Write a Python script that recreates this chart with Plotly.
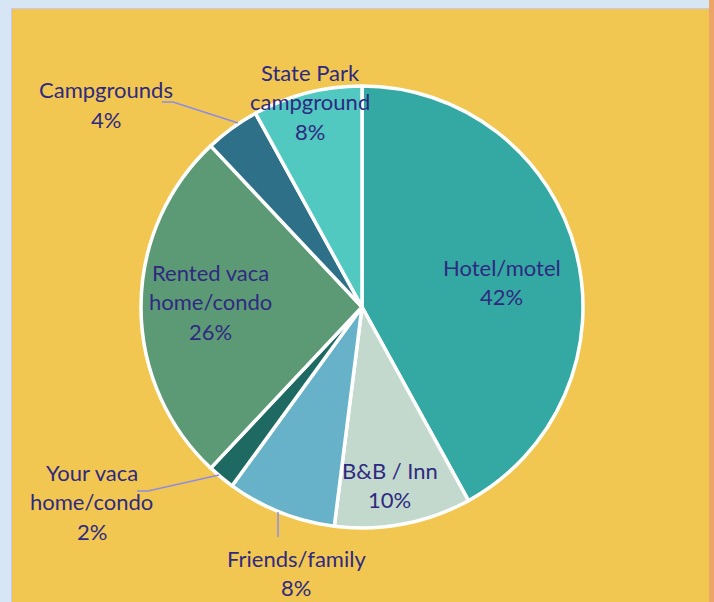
import plotly.graph_objects as go

W, H = 714, 602

labels = ["Hotel/motel", "B&B / Inn", "Friends/family", "Your vaca home/condo",
          "Rented vaca home/condo", "Campgrounds", "State Park campground"]
values = [42, 10, 8, 2, 26, 4, 8]
colors = ["#34A9A3", "#C3D9CD", "#67B1C9", "#1E6A62", "#5C9A76", "#2E7088", "#51C8C0"]

# label text lines and their centre positions (pixels)
label_lines = [
    (["Hotel/motel", "42%"], 502, 267),
    (["B&B / Inn", "10%"], 390, 470),
    (["Friends/family", "8%"], 296, 558),
    (["Your vaca", "home/condo", "2%"], 92, 472),
    (["Rented vaca", "home/condo", "26%"], 210, 272),
    (["Campgrounds", "4%"], 106, 90),
    (["State Park", "campground", "8%"], 310, 72),
]

TEXT = "#2F2A80"
LINE_H = 29.5

cx, cy, r = 362, 307, 221

fig = go.Figure(go.Pie(
    labels=labels, values=values, sort=False, direction="clockwise", rotation=0,
    marker=dict(colors=colors, line=dict(color="white", width=3.5)),
    textinfo="none", hoverinfo="label+percent", showlegend=False,
    domain=dict(x=[(cx - r) / W, (cx + r) / W], y=[(H - cy - r) / H, (H - cy + r) / H]),
))

anns = []
for lines, x, y0 in label_lines:
    for i, t in enumerate(lines):
        anns.append(dict(x=x / W, y=1 - (y0 + i * LINE_H) / H, xref="paper", yref="paper",
                         text=t, showarrow=False, xanchor="center", yanchor="middle",
                         font=dict(family="Lato", size=22, color=TEXT)))

def px_path(pts):
    return "M " + " L ".join(f"{x / W},{1 - y / H}" for x, y in pts)

shapes = [
    dict(type="rect", xref="paper", yref="paper", x0=0, x1=11 / W, y0=0, y1=1,
         fillcolor="#D6E6F5", line=dict(width=0), layer="below"),
    dict(type="rect", xref="paper", yref="paper", x0=0, x1=709 / W, y0=1 - 8 / H, y1=1,
         fillcolor="#D6E6F5", line=dict(width=0), layer="below"),
    dict(type="rect", xref="paper", yref="paper", x0=709 / W, x1=1, y0=0, y1=1,
         fillcolor="#EDA567", line=dict(width=0), layer="below"),
    dict(type="line", xref="paper", yref="paper", x0=11.5 / W, x1=11.5 / W, y0=0, y1=1 - 8 / H,
         line=dict(color="#C9C6EE", width=1)),
    dict(type="line", xref="paper", yref="paper", x0=11.5 / W, x1=709 / W, y0=1 - 8.5 / H, y1=1 - 8.5 / H,
         line=dict(color="#C9C6EE", width=1)),
    # leader lines
    dict(type="path", xref="paper", yref="paper", path=px_path([(162, 102), (173, 102), (238, 123)]),
         line=dict(color="#8C8CE6", width=1.5)),
    dict(type="path", xref="paper", yref="paper", path=px_path([(137, 491), (148, 491), (219, 475)]),
         line=dict(color="#8C8CE6", width=1.5)),
    dict(type="path", xref="paper", yref="paper", path=px_path([(278, 512), (278, 537)]),
         line=dict(color="#8C8CE6", width=1.5)),
]

fig.update_layout(
    width=W, height=H, margin=dict(l=0, r=0, t=0, b=0),
    paper_bgcolor="#F2C751", plot_bgcolor="#F2C751",
    annotations=anns, shapes=shapes,
)

fig.write_html("out.html")
